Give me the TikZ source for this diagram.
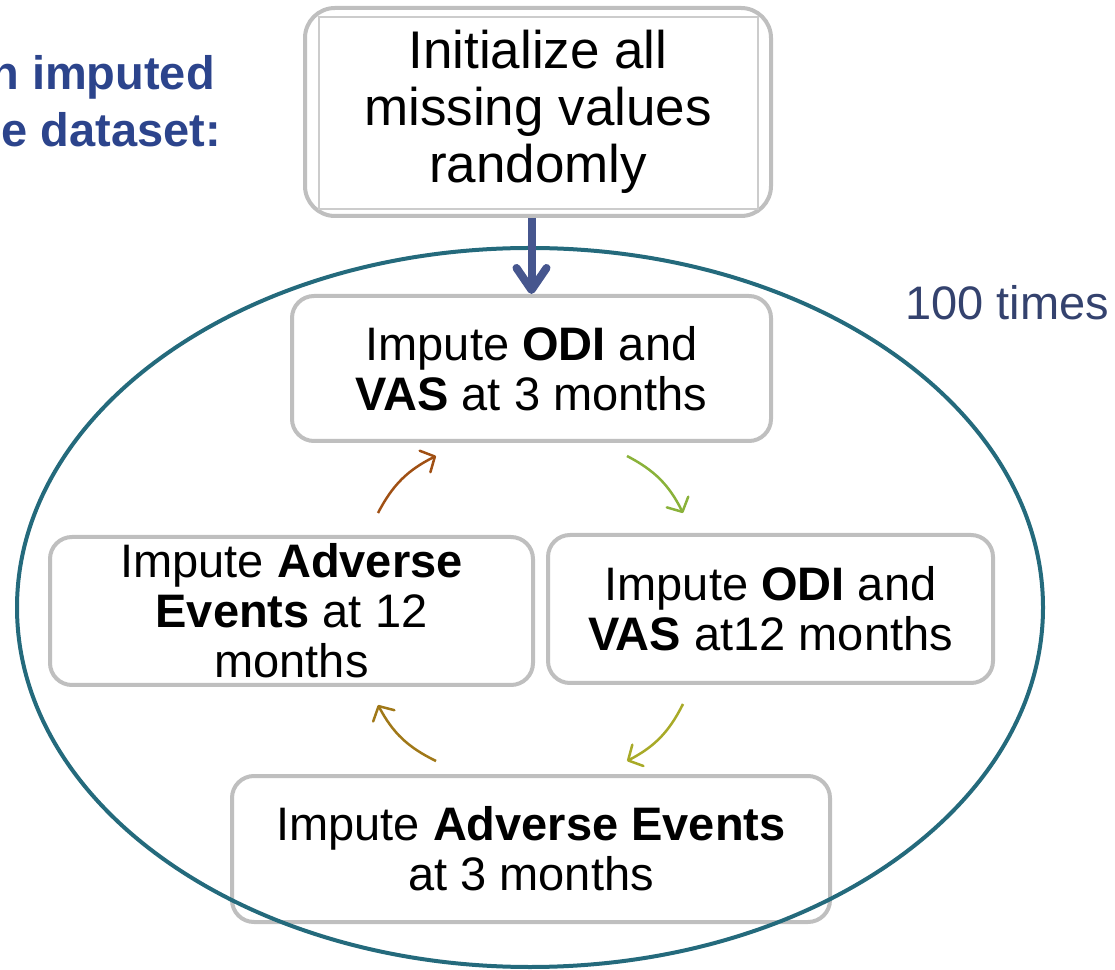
\documentclass[tikz,border=0pt]{standalone}
\usepackage{fontspec}
\setmainfont{Liberation Sans}
\usetikzlibrary{arrows.meta,shapes.geometric}
\definecolor{boxgray}{RGB}{191,191,191}
\definecolor{innergray}{RGB}{204,204,204}
\definecolor{loopteal}{RGB}{36,106,124}
\definecolor{arrowblue}{RGB}{70,86,142}
\definecolor{timesblue}{RGB}{52,66,110}
\definecolor{headblue}{RGB}{44,68,140}
\definecolor{cbrown}{RGB}{160,80,20}
\definecolor{cgreen}{RGB}{138,178,58}
\definecolor{colive}{RGB}{168,170,40}
\definecolor{cgold}{RGB}{160,120,24}
\begin{document}
\begin{tikzpicture}[x=1pt,y=1pt,
  stepbox/.style={draw=boxgray, line width=4pt, rounded corners=22pt, fill=white,
    align=center, inner sep=0pt, font=\fontsize{47}{50}\selectfont},
  cyclearrow/.style={line width=2.5pt, -{Straight Barb[length=11pt,width=24pt,round]}, bend left=18},
  headtext/.style={anchor=base east, text=headblue, font=\fontsize{47}{57}\selectfont\bfseries, inner sep=0pt},
]
\useasboundingbox (0,0) rectangle (1115,969);

% header text (clipped at the left edge)
\node[headtext] (h1) at (215,879) {n imputed};
\node[headtext] (h2) at (221,822) {e dataset:};

% initial box with double border
\node[stepbox, rounded corners=30pt, minimum width=466pt, minimum height=208pt,
      font=\fontsize{53}{57}\selectfont] (init) at (538,857)
  {Initialize all\\missing values\\randomly};
\draw[innergray, line width=1.5pt] ([shift={(16,-11)}]init.north west) rectangle ([shift={(-15,9)}]init.south east);

% cycle boxes
\node[stepbox, minimum width=479pt, minimum height=145pt] (odi3) at (531.5,600.5)
  {Impute \textbf{ODI} and\\\textbf{VAS} at 3 months};
\node[stepbox, minimum width=483pt, minimum height=148pt] (ae12) at (291.5,358)
  {Impute \textbf{Adverse}\\\textbf{Events} at 12\\months};
\node[stepbox, minimum width=445pt, minimum height=148pt] (odi12) at (770.5,360)
  {Impute \textbf{ODI} and\\\textbf{VAS} at12 months};
\node[stepbox, minimum width=598pt, minimum height=146pt] (ae3) at (531,120)
  {Impute \textbf{Adverse Events}\\at 3 months};

% loop ellipse
\node[draw=loopteal, line width=4pt, ellipse, minimum width=1026pt, minimum height=719pt, inner sep=0pt] (loop) at (530,361.5) {};

% 100 times label
\node[anchor=base west, inner sep=0pt, text=timesblue, font=\fontsize{47}{50}\selectfont] (times) at (905,649) {100 times};

% main arrow
\draw[arrowblue, line width=8pt, -{Straight Barb[length=22pt,width=30pt,round]}]
  (odi3.north |- init.south) -- (odi3.north);

% cycle arrows
\coordinate (b1) at (378,456); \coordinate (b2) at (436,513);
\coordinate (g1) at (627,513); \coordinate (g2) at (683,456);
\coordinate (o1) at (683,265); \coordinate (o2) at (627,208);
\coordinate (d1) at (436,208); \coordinate (d2) at (378,264);
\draw[cyclearrow, cbrown] (b1) to (b2);
\draw[cyclearrow, cgreen] (g1) to (g2);
\draw[cyclearrow, colive] (o1) to (o2);
\draw[cyclearrow, cgold] (d1) to (d2);
\end{tikzpicture}
\end{document}
